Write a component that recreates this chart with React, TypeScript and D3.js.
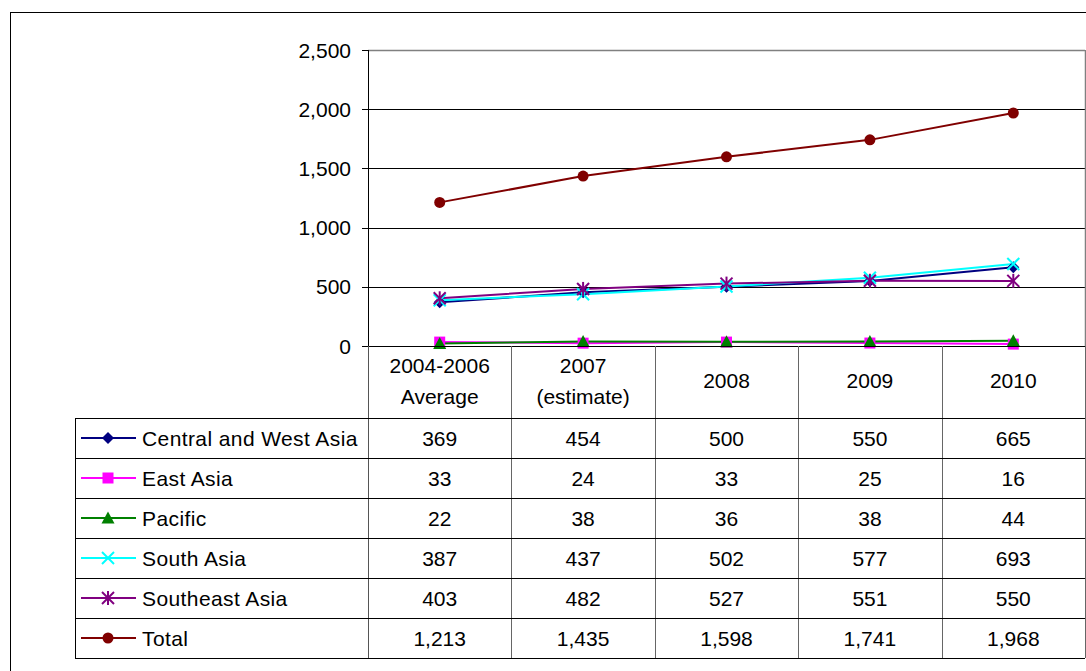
import React from "react";
import * as d3 from "d3";

const categories = ["2004-2006|Average", "2007|(estimate)", "2008", "2009", "2010"];
const seriesNames = ["Central and West Asia", "East Asia", "Pacific", "South Asia", "Southeast Asia", "Total"];
const centralWest = [369, 454, 500, 550, 665];
const eastAsia = [33, 24, 33, 25, 16];
const pacific = [22, 38, 36, 38, 44];
const southAsia = [387, 437, 502, 577, 693];
const southeastAsia = [403, 482, 527, 551, 550];
const total = [1213, 1435, 1598, 1741, 1968];
const yTicks = [0, 500, 1000, 1500, 2000, 2500];

type Marker = "diamond" | "square" | "triangle" | "x" | "star" | "circle";

const series: { name: string; values: number[]; color: string; marker: Marker }[] = [
  { name: seriesNames[0], values: centralWest, color: "#000080", marker: "diamond" },
  { name: seriesNames[1], values: eastAsia, color: "#FF00FF", marker: "square" },
  { name: seriesNames[2], values: pacific, color: "#008000", marker: "triangle" },
  { name: seriesNames[3], values: southAsia, color: "#00FFFF", marker: "x" },
  { name: seriesNames[4], values: southeastAsia, color: "#800080", marker: "star" },
  { name: seriesNames[5], values: total, color: "#800000", marker: "circle" },
];

const FONT = "'Liberation Sans', Arial, sans-serif";
const fmt = d3.format(",");

function MarkerShape({ type, x, y, color }: { type: Marker; x: number; y: number; color: string }) {
  const r = 6;
  if (type === "x" || type === "star") {
    return (
      <g stroke={color} strokeWidth={2}>
        <line x1={x - r} y1={y - r} x2={x + r} y2={y + r} />
        <line x1={x - r} y1={y + r} x2={x + r} y2={y - r} />
        {type === "star" && <line x1={x} y1={y - r - 1} x2={x} y2={y + r + 1} />}
      </g>
    );
  }
  if (type === "circle") return <circle cx={x} cy={y} r={5.5} fill={color} />;
  if (type === "square") return <rect x={x - 5.5} y={y - 5.5} width={11} height={11} fill={color} />;
  if (type === "diamond")
    return <path d={`M${x},${y - r}L${x + r},${y}L${x},${y + r}L${x - r},${y}Z`} fill={color} />;
  return <path d={`M${x},${y - 6.5}L${x + 6.5},${y + 5.5}L${x - 6.5},${y + 5.5}Z`} fill={color} />;
}

export default function App() {
  const x = d3.scaleBand<string>().domain(categories).range([368, 1085]).padding(0);
  const y = d3.scaleLinear().domain([0, 2500]).range([346, 50]);
  const rows = d3.scaleBand<string>().domain(seriesNames).range([418, 658]).padding(0);
  const cxOf = (i: number) => (x(categories[i]) as number) + x.bandwidth() / 2;
  const line = d3
    .line<number>()
    .x((_, i) => cxOf(i))
    .y((d) => y(d));

  const left = 368;
  const right = 1085;
  const tableLeft = 75;

  return (
    <svg
      width={1086}
      height={671}
      style={{ position: "absolute", left: 0, top: 0, background: "#fff" }}
      fontFamily={FONT}
    >
      <rect x={0} y={0} width={1086} height={671} fill="#fff" />
      {/* outer chart frame */}
      <rect x={10.5} y={12.5} width={1100} height={700} fill="none" stroke="#000" strokeWidth={1} />

      {/* gridlines and y ticks */}
      {yTicks.map((t) => (
        <g key={t}>
          {t > 0 && t < 2500 && <line x1={left} x2={right} y1={Math.round(y(t)) + 0.5} y2={Math.round(y(t)) + 0.5} stroke="#000" />}
          <line x1={left - 6} x2={left} y1={Math.round(y(t)) + 0.5} y2={Math.round(y(t)) + 0.5} stroke="#000" />
          <text x={351} y={y(t) + 7.5} textAnchor="end" fontSize={21} fill="#000">
            {fmt(t)}
          </text>
        </g>
      ))}
      {/* plot border */}
      <line x1={left} x2={right} y1={50.5} y2={50.5} stroke="#808080" strokeWidth={1.5} />
      <line x1={right + 0.5} x2={right + 0.5} y1={50} y2={346} stroke="#808080" strokeWidth={1.5} />
      <line x1={left + 0.5} x2={left + 0.5} y1={50} y2={346} stroke="#000" />

      {/* series lines */}
      {series.map((s) => (
        <path key={s.name} d={line(s.values) || ""} fill="none" stroke={s.color} strokeWidth={2} />
      ))}
      {series.map((s) =>
        s.values.map((v, i) => <MarkerShape key={s.name + i} type={s.marker} x={cxOf(i)} y={y(v)} color={s.color} />)
      )}
      {/* x axis */}
      <line x1={left} x2={right} y1={346.5} y2={346.5} stroke="#000" />

      {/* data table: header */}
      {categories.map((c, i) => {
        const parts = c.split("|");
        const cx = cxOf(i);
        return (
          <text key={c} textAnchor="middle" fontSize={21} fill="#000">
            {parts.length === 2 ? (
              <>
                <tspan x={cx} y={373}>{parts[0]}</tspan>
                <tspan x={cx} y={404}>{parts[1]}</tspan>
              </>
            ) : (
              <tspan x={cx} y={388}>{parts[0]}</tspan>
            )}
          </text>
        );
      })}
      {/* vertical dividers */}
      {categories.map((c, i) => (
        <line
          key={"v" + c}
          x1={Math.round(x(c) as number) + 0.5}
          x2={Math.round(x(c) as number) + 0.5}
          y1={346}
          y2={658}
          stroke={i === 0 ? "#555" : "#666"}
        />
      ))}
      <line x1={right + 0.5} x2={right + 0.5} y1={346} y2={658} stroke="#666" />
      {/* horizontal rules */}
      {seriesNames.map((n) => (
        <line key={"h" + n} x1={tableLeft} x2={right} y1={Math.round(rows(n) as number) + 0.5} y2={Math.round(rows(n) as number) + 0.5} stroke="#000" />
      ))}
      <line x1={tableLeft} x2={right} y1={658.5} y2={658.5} stroke="#000" />
      <line x1={tableLeft + 0.5} x2={tableLeft + 0.5} y1={418} y2={658} stroke="#000" />

      {/* rows: legend key, name and values */}
      {series.map((s) => {
        const ry = (rows(s.name) as number) + rows.bandwidth() / 2;
        return (
          <g key={"r" + s.name}>
            <line x1={81} x2={136} y1={ry} y2={ry} stroke={s.color} strokeWidth={2} />
            <MarkerShape type={s.marker} x={108} y={ry} color={s.color} />
            <text x={142} y={ry + 7.5} fontSize={21} fill="#000" letterSpacing={0.4}>
              {s.name}
            </text>
            {s.values.map((v, i) => (
              <text key={i} x={cxOf(i)} y={ry + 7.5} textAnchor="middle" fontSize={21} fill="#000">
                {fmt(v)}
              </text>
            ))}
          </g>
        );
      })}
    </svg>
  );
}
